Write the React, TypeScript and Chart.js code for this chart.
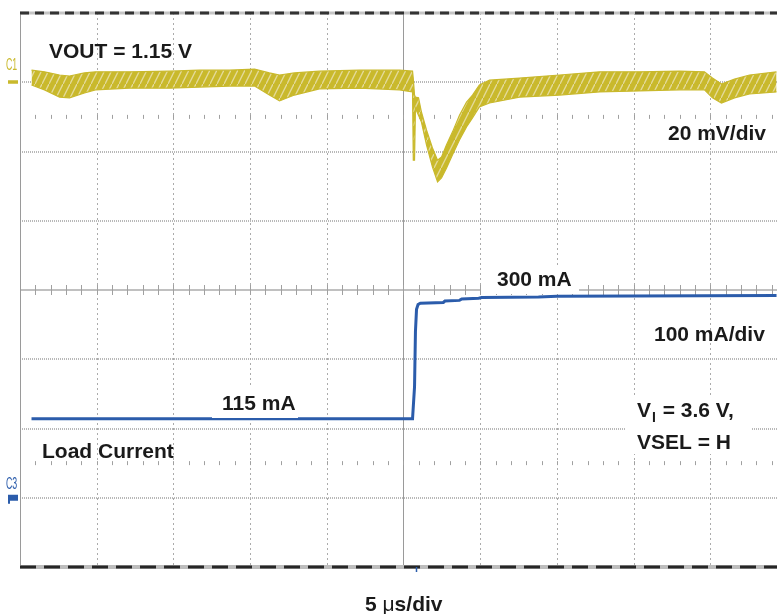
import React, { useEffect, useRef } from "react";
import { Chart, registerables } from "chart.js";

Chart.register(...registerables);

// ---- data (time in µs, VOUT deviation in mV, load current in mA) ----
const T_VOUT = [
  -24.25, -23.4, -22.42, -21.77, -20.8, -20.08, -17.86, -15.25, -13.3, -11.34, -9.71,
  -8.74, -8.08, -7.11, -5.48, -2.87, -0.26, 0.59, 0.64, 0.72, 0.78, 0.98, 1.17, 1.5,
  1.89, 2.22, 2.48, 2.8, 3.19, 3.65, 4.11, 4.5, 4.95, 5.61, 7.56, 10.17, 12.78, 15.38,
  17.99, 19.62, 20.14, 20.73, 21.58, 22.56, 24.32,
];
const VOUT_HIGH = [
  3.5, 3.0, 2.1, 1.8, 2.7, 3.0, 3.0, 3.2, 3.5, 3.5, 3.8,
  2.7, 2.1, 2.7, 3.2, 3.5, 3.5, 3.2, 1.0, -3.7, -4.3, -4.5, -8.6, -13.8,
  -19.0, -22.5, -21.6, -18.1, -14.4, -9.5, -5.7, -3.7, -0.8, 0.6, 1.2, 2.1, 3.0, 3.0,
  3.2, 3.0, 1.2, -0.5, 0.9, 2.1, 3.0,
];
const VOUT_LOW = [
  -0.8, -2.2, -4.3, -4.5, -3.1, -2.2, -1.7, -1.7, -1.4, -1.1, -1.1,
  -3.7, -5.4, -3.7, -1.9, -1.7, -2.2, -2.8, -22.5, -22.5, -7.5, -9.5, -11.5, -18.1,
  -24.5, -28.8, -27.6, -24.8, -21.0, -16.7, -12.9, -10.3, -7.1, -6.0, -4.3, -3.7, -2.8, -2.5,
  -2.2, -2.2, -4.5, -6.0, -4.5, -3.4, -2.8,
];
const T_LOAD = [-24.25, 0.59, 0.62, 0.72, 0.78, 0.85, 0.95, 1.1, 2.6, 2.7, 3.65, 3.8, 4.9, 5.1, 8.8, 10.0, 24.32];
const LOAD_MA = [114, 114, 114, 160, 240, 272, 279, 281, 282, 284, 285, 287, 288, 289, 290, 291, 292];

const LABEL_VOUT = "VOUT = 1.15 V";
const LABEL_VSCALE = "20 mV/div";
const LABEL_IHIGH = "300 mA";
const LABEL_ISCALE = "100 mA/div";
const LABEL_ILOW = "115 mA";
const LABEL_LOAD = "Load Current";
const LABEL_VSEL = "VSEL = H";
const LABEL_TIME = "s/div";

const YELLOW = "#c9b92c";
const BLUE = "#2b5cab";
const FONT = '"Liberation Sans", Arial, sans-serif';

function makeRipplePattern(): CanvasPattern | string {
  const c = document.createElement("canvas");
  c.width = 7;
  c.height = 14;
  const g = c.getContext("2d");
  if (!g) return YELLOW;
  g.fillStyle = "#c9b92c";
  g.fillRect(0, 0, 7, 14);
  g.strokeStyle = "#e4da9a";
  g.lineWidth = 1.3;
  g.beginPath();
  g.moveTo(0, 14);
  g.lineTo(7, 0);
  g.stroke();
  const p = g.createPattern(c, "repeat");
  return p || YELLOW;
}

const scopePlugin = {
  id: "scope",
  beforeDatasetsDraw(chart: any) {
    const { ctx, chartArea: a, scales } = chart;
    const X = scales.x;
    const YI = scales.yI;
    const r = (p: number) => Math.round(p) + 0.5;
    ctx.save();
    ctx.strokeStyle = "#b8b8b8";
    ctx.lineWidth = 2;
    ctx.setLineDash([1, 1]);
    for (let v = 0; v <= 600; v += 100) {
      if (v === 300) continue;
      const py = Math.round(YI.getPixelForValue(v));
      ctx.beginPath();
      ctx.moveTo(a.left, py);
      ctx.lineTo(a.right, py);
      ctx.stroke();
    }
    ctx.strokeStyle = "#ababab";
    ctx.lineWidth = 1;
    ctx.setLineDash([2, 3]);
    for (let t = -20; t <= 24; t += 5) {
      if (t === 0) continue;
      const px = r(X.getPixelForValue(t));
      ctx.beginPath();
      ctx.moveTo(px, a.top);
      ctx.lineTo(px, a.bottom);
      ctx.stroke();
    }
    ctx.setLineDash([]);
    const cy = Math.round(YI.getPixelForValue(300));
    ctx.strokeStyle = "#c0c0c0";
    ctx.lineWidth = 2;
    ctx.beginPath();
    ctx.moveTo(a.left, cy);
    ctx.lineTo(a.right, cy);
    ctx.stroke();
    ctx.strokeStyle = "#9a9a9a";
    ctx.lineWidth = 1;
    for (const t of [0, X.min]) {
      const px = r(X.getPixelForValue(t));
      ctx.beginPath();
      ctx.moveTo(px, a.top);
      ctx.lineTo(px, a.bottom);
      ctx.stroke();
    }
    ctx.strokeStyle = "#a0a0a0";
    for (let t = -24; t <= 24; t += 1) {
      const px = r(X.getPixelForValue(t));
      ctx.beginPath();
      ctx.moveTo(px, cy - 5);
      ctx.lineTo(px, cy + 5);
      for (const v of [550, 50]) {
        const py = YI.getPixelForValue(v);
        ctx.moveTo(px, py - 2);
        ctx.lineTo(px, py + 2);
      }
      ctx.stroke();
    }
    ctx.strokeStyle = "#c4c4c4";
    ctx.lineWidth = 3;
    ctx.beginPath();
    ctx.moveTo(a.left, a.top);
    ctx.lineTo(a.right, a.top);
    ctx.stroke();
    ctx.strokeStyle = "#333";
    ctx.setLineDash([9, 6]);
    ctx.stroke();
    ctx.setLineDash([]);
    ctx.strokeStyle = "#bdbdbd";
    ctx.lineWidth = 4;
    ctx.beginPath();
    ctx.moveTo(a.left, a.bottom);
    ctx.lineTo(a.right, a.bottom);
    ctx.stroke();
    ctx.strokeStyle = "#262626";
    ctx.lineWidth = 3;
    ctx.setLineDash([16, 8]);
    ctx.stroke();
    ctx.setLineDash([]);
    ctx.restore();
  },
  afterDatasetsDraw(chart: any) {
    const { ctx, scales, chartArea: a } = chart;
    const X = scales.x;
    const YI = scales.yI;
    const YV = scales.yV;
    ctx.save();
    ctx.fillStyle = "#ffffff";
    ctx.fillRect(481, 265, 98, 29);
    ctx.fillRect(212, 388, 86, 30);
    ctx.fillRect(625, 398, 127, 56);
    const bold = `bold 21px ${FONT}`;
    ctx.fillStyle = "#1a1a1a";
    ctx.textBaseline = "alphabetic";
    ctx.textAlign = "left";
    ctx.font = bold;
    ctx.fillText(LABEL_VOUT, 49, 58);
    ctx.fillText(LABEL_VSCALE, 668, 140);
    ctx.fillText(LABEL_IHIGH, 497, 286);
    ctx.fillText(LABEL_ISCALE, 654, 341);
    ctx.fillText(LABEL_ILOW, 222, 410);
    ctx.fillText(LABEL_LOAD, 42, 458);
    let x = 637;
    ctx.fillText("V", x, 417);
    x += ctx.measureText("V").width + 1;
    ctx.font = `bold 14px ${FONT}`;
    ctx.fillText("I", x, 422);
    x += ctx.measureText("I").width + 1;
    ctx.font = bold;
    ctx.fillText(" = 3.6 V,", x, 417);
    ctx.fillText(LABEL_VSEL, 637, 449);
    x = 365;
    ctx.fillText("5 ", x, 611);
    x += ctx.measureText("5 ").width;
    ctx.font = `21px ${FONT}`;
    ctx.fillText("\u03bc", x, 611);
    x += ctx.measureText("\u03bc").width;
    ctx.font = bold;
    ctx.fillText(LABEL_TIME, x, 611);

    const y1 = YV.getPixelForValue(0);
    ctx.fillStyle = YELLOW;
    ctx.fillRect(8, y1 - 2, 10, 3.5);
    const y3 = YI.getPixelForValue(0);
    ctx.fillStyle = BLUE;
    ctx.beginPath();
    ctx.moveTo(8, y3 - 3);
    ctx.lineTo(18, y3 - 3);
    ctx.lineTo(18, y3 + 3);
    ctx.lineTo(10, y3 + 3);
    ctx.lineTo(10, y3 + 6);
    ctx.lineTo(8, y3 + 6);
    ctx.closePath();
    ctx.fill();
    ctx.font = `16px ${FONT}`;
    ctx.save();
    ctx.translate(6, y1 - 12);
    ctx.scale(0.55, 1.05);
    ctx.fillStyle = YELLOW;
    ctx.fillText("C1", 0, 0);
    ctx.restore();
    ctx.save();
    ctx.translate(6, y3 - 9);
    ctx.scale(0.55, 1.05);
    ctx.fillStyle = BLUE;
    ctx.fillText("C3", 0, 0);
    ctx.restore();
    const tx = Math.round(X.getPixelForValue(0.8)) + 0.5;
    ctx.strokeStyle = BLUE;
    ctx.lineWidth = 1.5;
    ctx.beginPath();
    ctx.moveTo(tx, a.bottom);
    ctx.lineTo(tx, a.bottom + 5);
    ctx.stroke();
    ctx.restore();
  },
};

export default function App() {
  const ref = useRef<HTMLCanvasElement>(null);
  useEffect(() => {
    const canvas = ref.current;
    if (!canvas) return;
    const ripple = makeRipplePattern();
    const chart = new Chart(canvas, {
      type: "line",
      data: {
        datasets: [
          {
            data: T_VOUT.map((t, i) => ({ x: t, y: VOUT_HIGH[i] })),
            yAxisID: "yV",
            borderColor: YELLOW,
            borderWidth: 1.2,
            pointRadius: 0,
            fill: false,
            tension: 0,
          },
          {
            data: T_VOUT.map((t, i) => ({ x: t, y: VOUT_LOW[i] })),
            yAxisID: "yV",
            borderColor: YELLOW,
            borderWidth: 1.2,
            pointRadius: 0,
            backgroundColor: ripple,
            fill: "-1",
            tension: 0,
          },
          {
            data: T_LOAD.map((t, i) => ({ x: t, y: LOAD_MA[i] })),
            yAxisID: "yI",
            borderColor: BLUE,
            borderWidth: 3,
            pointRadius: 0,
            fill: false,
            tension: 0,
          },
        ],
      },
      options: {
        responsive: false,
        animation: false,
        devicePixelRatio: 1,
        events: [],
        layout: { padding: { left: 20, top: 13, right: 0, bottom: 47 } },
        plugins: { legend: { display: false }, tooltip: { enabled: false } },
        scales: {
          x: { type: "linear", min: -25, max: 24.35, display: false },
          yV: { type: "linear", min: -140, max: 20, display: false },
          yI: { type: "linear", min: -100, max: 700, display: false },
        },
      },
      plugins: [scopePlugin],
    } as any);
    return () => chart.destroy();
  }, []);
  return (
    <div style={{ position: "absolute", left: 0, top: 0, width: 777, height: 614, background: "#fff" }}>
      <canvas ref={ref} width={777} height={614} style={{ display: "block" }} />
    </div>
  );
}
